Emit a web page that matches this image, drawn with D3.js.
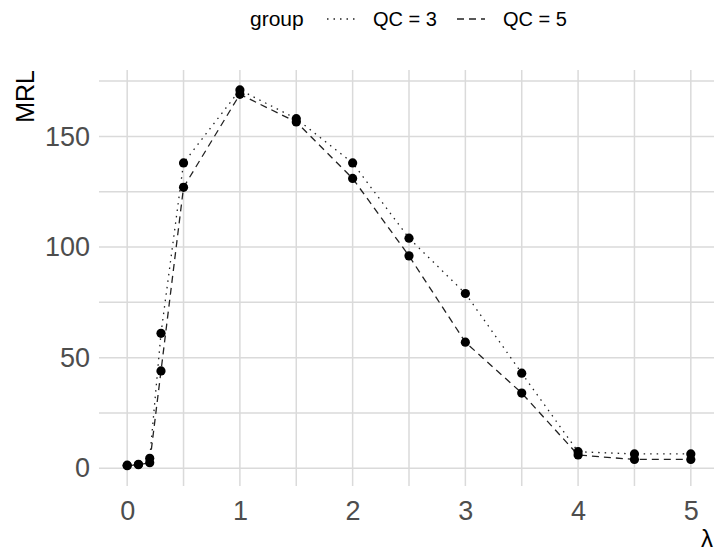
<!DOCTYPE html>
<html>
<head>
<meta charset="utf-8">
<script src="https://cdn.jsdelivr.net/npm/d3@7"></script>
<style>
	body { margin: 0; background: #fff; }
	text { font-family: "Liberation Sans", Arial, sans-serif; }
</style>
</head>
<body>
<div id="chart"></div>
<script>
// data
var lambda = [0, 0.1, 0.2, 0.3, 0.5, 1, 1.5, 2, 2.5, 3, 3.5, 4, 4.5, 5];
var qc3 = [1.4, 1.8, 4.5, 61, 138, 171, 158, 138, 104, 79, 43, 7.5, 6.5, 6.5];
var qc5 = [1.2, 1.6, 2.5, 44, 127, 169, 156.5, 131, 96, 57, 34, 6, 4, 4];
var groups = ["QC = 3", "QC = 5"];
var xTicks = [0, 1, 2, 3, 4, 5];
var yTicks = [0, 50, 100, 150];

var svgWidth = 714;
var svgHeight = 552;

var panel = { left: 99, right: 719, top: 70, bottom: 486 };

var svg = d3.select("#chart")
	.append("svg")
	.attr("width", svgWidth)
	.attr("height", svgHeight);

var xScale = d3.scaleLinear()
	.domain([-0.25, 5.25])
	.range([panel.left, panel.right]);

var yScale = d3.scaleLinear()
	.domain([-8, 180])
	.range([panel.bottom, panel.top]);

// grid (major + minor, same look)
var gridG = svg.append("g");
gridG.selectAll("line.v")
	.data(d3.range(0, 5.01, 0.5))
	.enter()
	.append("line")
	.attr("x1", d => xScale(d))
	.attr("x2", d => xScale(d))
	.attr("y1", panel.top)
	.attr("y2", panel.bottom)
	.attr("stroke", "#dadada")
	.attr("stroke-width", 1.5);

gridG.selectAll("line.h")
	.data(d3.range(0, 176, 25))
	.enter()
	.append("line")
	.attr("x1", panel.left)
	.attr("x2", panel.right)
	.attr("y1", d => yScale(d))
	.attr("y2", d => yScale(d))
	.attr("stroke", "#dadada")
	.attr("stroke-width", 1.5);

// axes, text only
var xAxis = svg.append("g")
	.attr("transform", `translate(0, ${panel.bottom})`)
	.call(d3.axisBottom(xScale).tickValues(xTicks).tickFormat(d3.format("d")).tickSize(0).tickPadding(15));
var yAxis = svg.append("g")
	.attr("transform", `translate(${panel.left}, 0)`)
	.call(d3.axisLeft(yScale).tickValues(yTicks).tickFormat(d3.format("d")).tickSize(0).tickPadding(9));

[xAxis, yAxis].forEach(function(ax) {
	ax.select(".domain").remove();
	ax.selectAll("text")
		.attr("fill", "#4d4d4d")
		.style("font-size", "27px")
		.style("font-family", "'Liberation Sans', Arial, sans-serif");
});

// series
var series = [
	{ name: groups[0], values: qc3, dash: "1.5,5" },
	{ name: groups[1], values: qc5, dash: "7,5" }
];

var line = d3.line()
	.x(d => xScale(d[0]))
	.y(d => yScale(d[1]));

series.forEach(function(s) {
	var pts = lambda.map((l, i) => [l, s.values[i]]);
	svg.append("path")
		.datum(pts)
		.attr("d", line)
		.attr("fill", "none")
		.attr("stroke", "#222")
		.attr("stroke-width", 1.3)
		.attr("stroke-dasharray", s.dash);
});

series.forEach(function(s) {
	svg.append("g").selectAll("circle")
		.data(lambda.map((l, i) => [l, s.values[i]]))
		.enter()
		.append("circle")
		.attr("cx", d => xScale(d[0]))
		.attr("cy", d => yScale(d[1]))
		.attr("r", 4.6)
		.attr("fill", "#000");
});

// axis titles
svg.append("text")
	.attr("transform", `translate(34, ${panel.top}) rotate(-90)`)
	.attr("text-anchor", "end")
	.style("font-size", "25px")
	.attr("fill", "#000")
	.text("MRL");

svg.append("text")
	.attr("x", 713)
	.attr("y", 547)
	.attr("text-anchor", "end")
	.style("font-size", "24px")
	.attr("fill", "#000")
	.text("λ");

// legend on top
var legend = svg.append("g");
legend.append("text")
	.attr("x", 250)
	.attr("y", 26)
	.style("font-size", "21px")
	.text("group");

var keys = [
	{ x1: 327, x2: 357, tx: 373 },
	{ x1: 457, x2: 485, tx: 503 }
];
series.forEach(function(s, i) {
	legend.append("line")
		.attr("x1", keys[i].x1)
		.attr("x2", keys[i].x2)
		.attr("y1", 19)
		.attr("y2", 19)
		.attr("stroke", "#222")
		.attr("stroke-width", 1.3)
		.attr("stroke-dasharray", s.dash);
	legend.append("text")
		.attr("x", keys[i].tx)
		.attr("y", 26)
		.style("font-size", "20px")
		.attr("textLength", 64)
		.attr("lengthAdjust", "spacingAndGlyphs")
		.text(s.name);
});
</script>
</body>
</html>
